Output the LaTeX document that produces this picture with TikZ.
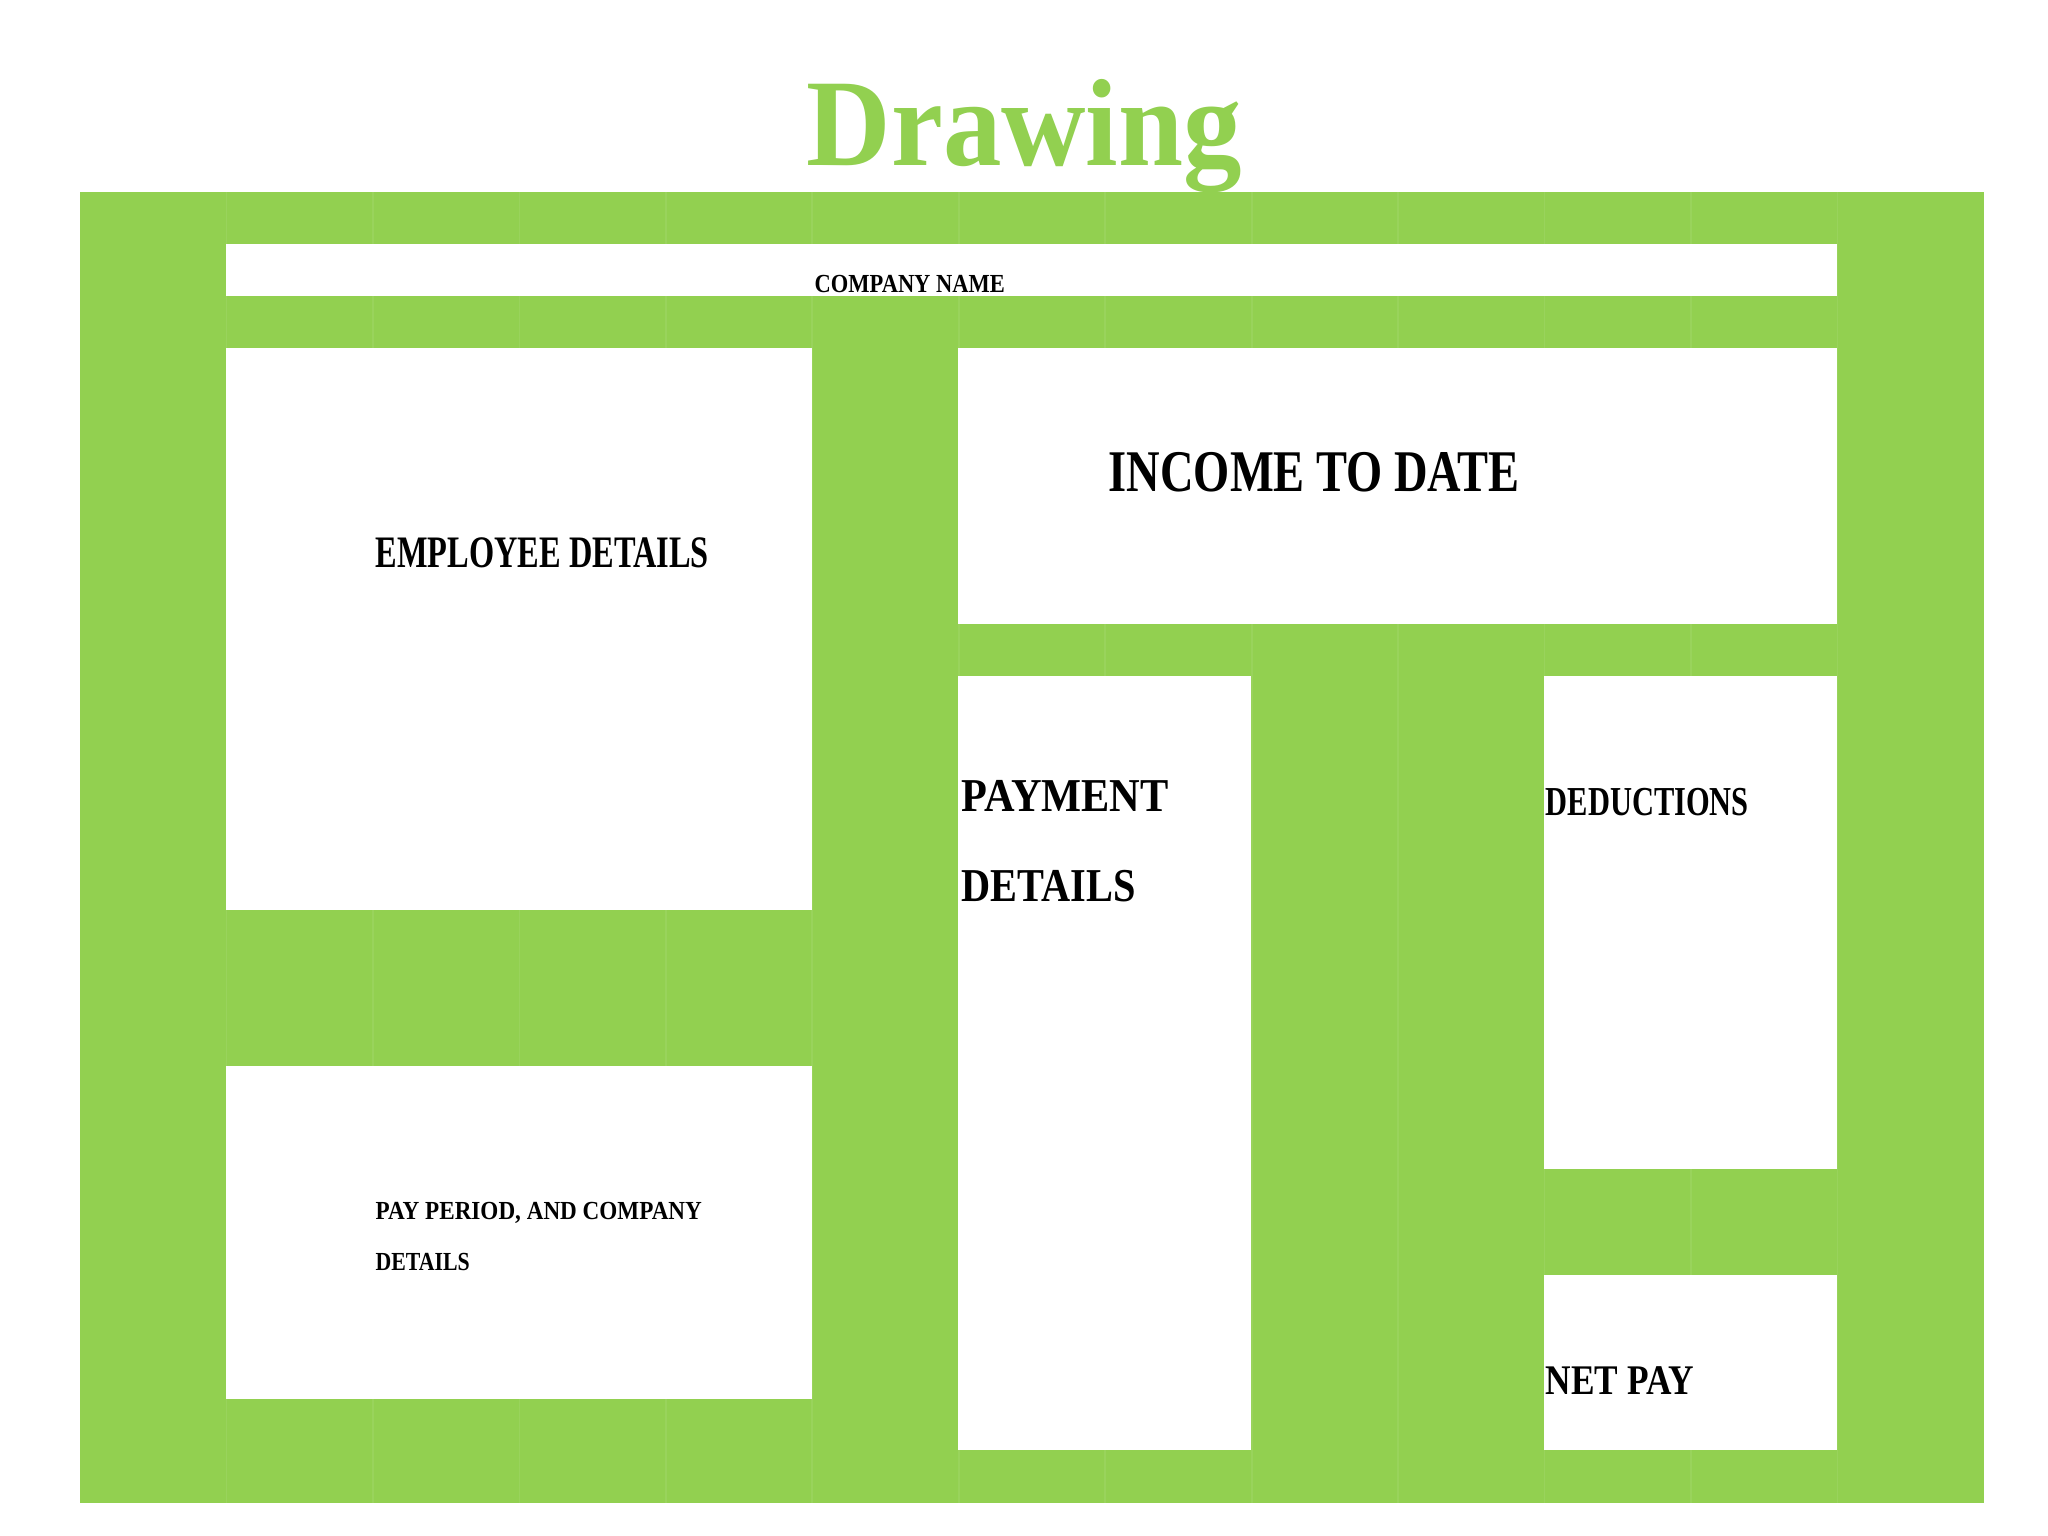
\documentclass[tikz,border=0pt]{standalone}
\usepackage{fontspec}
\setmainfont{Liberation Serif}
\usepackage{graphicx}
\definecolor{lgreen}{RGB}{146,208,80}
\definecolor{gridg}{RGB}{153,211,92}
\newcommand{\fitw}[2]{\resizebox{#1}{\height}{#2}}
\begin{document}
\begin{tikzpicture}[x=0.01cm,y=-0.01cm,
  panel/.style={fill=lgreen},
  cell/.style={fill=white},
  lbl/.style={anchor=base west, inner sep=0pt, text=black},
  bigbold/.style={font=\bfseries\fontsize{#1}{#1}\selectfont},
  plain/.style={font=\bfseries\fontsize{#1}{#1}\selectfont}
]
\useasboundingbox (0,0) rectangle (2048,1536);
\fill[white] (0,0) rectangle (2048,1536);
% green panel with faint spreadsheet column lines
\fill[panel] (80,192) rectangle (1984,1503);
\foreach \i in {1,...,12}
  \draw[gridg, line width=0.5pt] ({80+146.46*\i},192) -- ({80+146.46*\i},1503);
% white cells
\fill[cell] (226,244) rectangle (1837,296);   % company name
\fill[cell] (226,348) rectangle (812,910);    % employee details
\fill[cell] (226,1066) rectangle (812,1399);  % pay period
\fill[cell] (958,348) rectangle (1837,624);   % income to date
\fill[cell] (958,676) rectangle (1251,1450);  % payment details
\fill[cell] (1544,676) rectangle (1837,1169); % deductions
\fill[cell] (1544,1275) rectangle (1837,1450);% net pay
% title
\node[lbl, text=lgreen, bigbold=35.3pt] (title) at (806,165) {\fitw{4.35cm}{Drawing}};
% labels
\node[lbl, plain=7.4pt] (company) at (814,292) {\fitw{1.90cm}{COMPANY NAME}};
\node[lbl, bigbold=12.8pt] (employee) at (375,567) {\fitw{3.33cm}{EMPLOYEE DETAILS}};
\node[lbl, bigbold=16.8pt] (income) at (1108,491) {\fitw{4.11cm}{INCOME TO DATE}};
\node[lbl, bigbold=13.4pt] (payment1) at (961,811) {\fitw{2.07cm}{PAYMENT}};
\node[lbl, bigbold=13.4pt] (payment2) at (961,901) {\fitw{1.74cm}{DETAILS}};
\node[lbl, bigbold=11.7pt] (deductions) at (1545,815) {\fitw{2.03cm}{DEDUCTIONS}};
\node[lbl, plain=7.4pt] (period1) at (375,1219) {\fitw{3.26cm}{PAY PERIOD, AND COMPANY}};
\node[lbl, plain=7.4pt] (period2) at (375,1270) {\fitw{0.94cm}{DETAILS}};
\node[lbl, bigbold=12pt] (netpay) at (1545,1394) {\fitw{1.48cm}{NET PAY}};
\end{tikzpicture}
\end{document}
